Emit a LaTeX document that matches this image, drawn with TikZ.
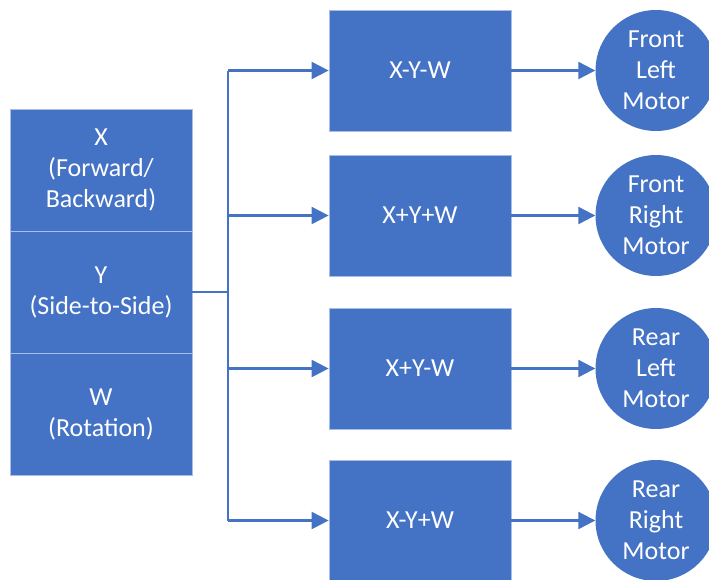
\documentclass[tikz,border=0pt]{standalone}
\usepackage{fontspec}
\setmainfont{Carlito}
\usetikzlibrary{arrows.meta}
\definecolor{ofblue}{HTML}{4472C4}
\definecolor{edgeblue}{HTML}{A9BEE6}
\tikzset{
  blk/.style={rectangle, fill=ofblue, draw=edgeblue, line width=0.8pt, text=white, align=center, inner sep=0pt, font=\fontsize{26}{31}\selectfont},
  stackbox/.style={blk, minimum width=182pt, minimum height=122pt},
  calcbox/.style={blk, minimum width=182pt, minimum height=121pt},
  motor/.style={circle, fill=ofblue, draw=none, text=white, align=center, inner sep=0pt, minimum size=121pt, font=\fontsize{26}{31}\selectfont},
  link/.style={draw=ofblue, line width=2.2pt},
  arr/.style={link, -{Triangle[length=17pt,width=17pt]}}
}
\begin{document}
\begin{tikzpicture}[x=1pt,y=1pt]
\useasboundingbox (0,0) rectangle (709,-579);
% input stack
\node[stackbox] (sx) at (101,-170) {X\\(Forward/\\Backward)};
\node[stackbox] (sy) at (101,-292) {Y\\(Side-to-Side)};
\node[stackbox] (sw) at (101,-414) {W\\(Rotation)};
% mixing boxes
\node[calcbox] (b1) at (420,-70.5) {X-Y-W};
\node[calcbox] (b2) at (420,-215.5) {X+Y+W};
\node[calcbox] (b3) at (420,-368.5) {X+Y-W};
\node[calcbox] (b4) at (420,-520.5) {X-Y+W};
% motors
\node[motor] (m1) at (656,-70.5) {Front\\Left\\Motor};
\node[motor] (m2) at (656,-215.5) {Front\\Right\\Motor};
\node[motor] (m3) at (656,-368.5) {Rear\\Left\\Motor};
\node[motor] (m4) at (656,-520.5) {Rear\\Right\\Motor};
% trunk
\coordinate (j) at (228,-292);
\coordinate (jt) at (j |- b1.west);
\coordinate (jb) at (j |- b4.west);
\draw[link] (sy.east) -- (j);
\draw[link] (jt) -- (jb);
\draw[arr] (jt) -- (b1.west);
\draw[arr] (j |- b2.west) -- (b2.west);
\draw[arr] (j |- b3.west) -- (b3.west);
\draw[arr] (jb) -- (b4.west);
% outputs
\draw[arr] (b1.east) -- (m1.west);
\draw[arr] (b2.east) -- (m2.west);
\draw[arr] (b3.east) -- (m3.west);
\draw[arr] (b4.east) -- (m4.west);
\end{tikzpicture}
\end{document}
